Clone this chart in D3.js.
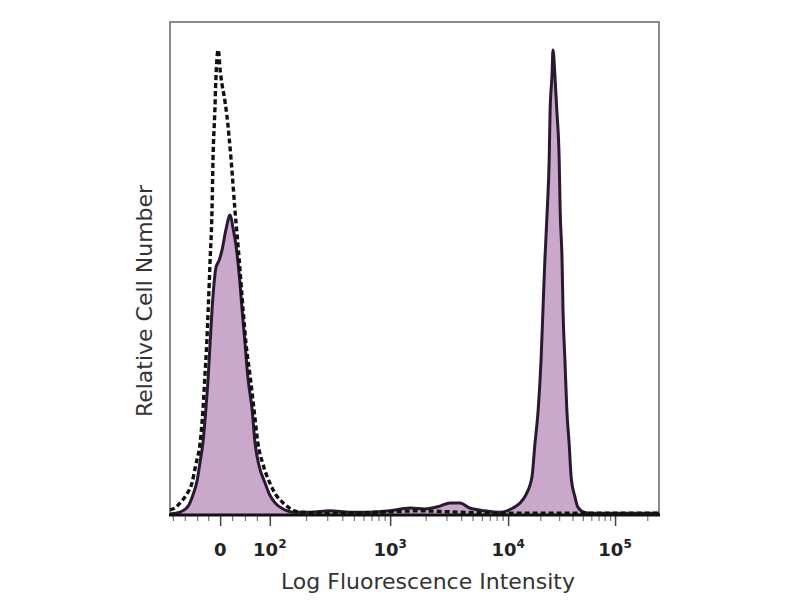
<!DOCTYPE html>
<html>
<head>
<meta charset="utf-8">
<script src="https://cdn.jsdelivr.net/npm/d3@7"></script>
<style>
  html, body { margin: 0; padding: 0; background: #ffffff; }
  svg { display: block; }
</style>
</head>
<body>
<svg id="chart" width="800" height="600"></svg>
<script>
// ---- Data (x in display channels 0-1024, y as relative cell number, % of max) ----
const sampleChannel = [0, 21, 38, 48, 57, 63, 69, 75, 80, 84, 88, 92, 96, 103, 109, 117, 126, 132, 138, 145,
  151, 157, 163, 172, 178, 186, 199, 209, 220, 237, 258, 293, 335, 377, 419, 461, 503, 534, 565, 586,
  607, 628, 660, 691, 706, 718, 733, 746, 758, 764, 771, 777, 781, 785, 790, 794, 796, 800, 802, 806,
  810, 815, 817, 821, 823, 827, 831, 836, 840, 848, 854, 867, 880, 921, 963, 1024];
const sampleCount = [0.2, 0.6, 1.9, 4.3, 7.5, 11.4, 15.5, 22.6, 29.7, 37.0, 44.1, 49.5, 53.1, 54.8, 57.0, 61.3, 64.5, 61.7, 58.1, 51.6,
  44.1, 37.0, 29.7, 22.6, 15.5, 10.8, 6.9, 4.3, 2.6, 1.3, 0.6, 0.6, 0.9, 0.6, 0.6, 0.9, 1.5, 1.3, 1.9, 2.6,
  2.6, 1.5, 0.9, 0.6, 0.9, 1.5, 2.6, 4.5, 8.2, 15.1, 22.6, 33.3, 44.1, 54.8, 65.6, 76.3, 87.1, 94.6, 100, 94.6,
  87.1, 76.3, 65.6, 54.8, 44.1, 33.3, 22.6, 15.1, 8.2, 3.9, 1.7, 0.6, 0.4, 0.4, 0.4, 0.4];

const isotypeChannel = [0, 10, 21, 34, 46, 54, 63, 69, 73, 77, 80, 84, 88, 90, 94, 96, 101, 105, 109, 113,
  119, 128, 136, 145, 153, 159, 168, 176, 184, 195, 209, 222, 237, 253, 272, 335, 440, 523, 607, 691,
  817, 942, 1024];
const isotypeCount = [1.1, 1.5, 2.6, 4.3, 6.9, 10.8, 15.5, 22.6, 29.7, 37.0, 44.1, 54.8, 65.6, 76.3, 87.1, 93.5, 100, 95.7, 92.5, 90.3,
  86.0, 76.3, 65.6, 54.8, 44.1, 37.0, 29.7, 22.6, 15.5, 10.8, 6.9, 4.3, 2.6, 1.3, 0.6, 0.4, 0.6, 0.9, 0.6, 0.4,
  0.4, 0.4, 0.4];

// Axis ticks (channel positions of the biexponential display) and labels
const majorTickChannels = [105, 209, 461, 708, 932];
const majorTickBase = ["0", "10", "10", "10", "10"];
const majorTickExp = ["", "2", "3", "4", "5"];
const linearMinorChannels = [6, 31, 57, 80, 130, 157, 182];
const minorMultipliers = [2, 3, 4, 5, 6, 7, 8, 9];

const xTitle = "Log Fluorescence Intensity";
const yTitle = "Relative Cell Number";

(function draw() {
  const pl = 170, pr = 659, pt = 22, pb = 515;
  const svg = d3.select("#chart");

  const x = d3.scaleLinear().domain([0, 1024]).range([pl, pr]);
  const y = d3.scaleLinear().domain([0, 106]).range([pb, pt]);

  // log-decade minor ticks between major decade ticks
  const minorChannels = linearMinorChannels.slice();
  for (let i = 1; i < majorTickChannels.length; i++) {
    const a = majorTickChannels[i];
    const b = (i + 1 < majorTickChannels.length) ? majorTickChannels[i + 1] : a + (a - majorTickChannels[i - 1]);
    minorMultipliers.forEach(m => {
      const c = a + Math.log10(m) * (b - a);
      if (c < 1024) minorChannels.push(c);
    });
  }

  // frame
  svg.append("rect")
    .attr("x", pl).attr("y", pt)
    .attr("width", pr - pl).attr("height", pb - pt)
    .attr("fill", "none").attr("stroke", "#8a8a8a").attr("stroke-width", 2);

  const sample = sampleChannel.map((c, i) => ({ c, v: sampleCount[i] }));
  const isotype = isotypeChannel.map((c, i) => ({ c, v: isotypeCount[i] }));

  const curve = d3.curveMonotoneX;
  const area = d3.area().x(d => x(d.c)).y0(y(0)).y1(d => y(d.v)).curve(curve);
  const line = d3.line().x(d => x(d.c)).y(d => y(d.v)).curve(curve);

  svg.append("path").datum(sample)
    .attr("d", area)
    .attr("fill", "#c9a8cb");

  svg.append("path").datum(sample)
    .attr("d", line)
    .attr("fill", "none").attr("stroke", "#2a1a30").attr("stroke-width", 3)
    .attr("stroke-linejoin", "round");

  svg.append("path").datum(isotype)
    .attr("d", line)
    .attr("fill", "none").attr("stroke", "#111111").attr("stroke-width", 3.4)
    .attr("stroke-dasharray", "5,3");

  // x axis ticks
  svg.append("g").attr("transform", `translate(0,${pb})`)
    .call(d3.axisBottom(x).tickValues(majorTickChannels).tickSize(11).tickFormat(""))
    .call(g => g.select(".domain").remove())
    .call(g => g.selectAll(".tick line").attr("stroke", "#444").attr("stroke-width", 1.5));
  svg.append("g").attr("transform", `translate(0,${pb})`)
    .call(d3.axisBottom(x).tickValues(minorChannels).tickSize(6).tickFormat(""))
    .call(g => g.select(".domain").remove())
    .call(g => g.selectAll(".tick line").attr("stroke", "#777").attr("stroke-width", 1.2));

  svg.append("line")
    .attr("x1", pl - 1).attr("x2", pr + 1)
    .attr("y1", pb).attr("y2", pb)
    .attr("stroke", "#111").attr("stroke-width", 3);

  // tick labels
  const labels = svg.append("g")
    .attr("font-family", "DejaVu Sans, Verdana, sans-serif")
    .attr("font-weight", "bold").attr("fill", "#222");
  majorTickChannels.forEach((c, i) => {
    const t = labels.append("text")
      .attr("x", x(c)).attr("y", 556)
      .attr("text-anchor", "middle")
      .attr("font-size", 18);
    t.append("tspan").text(majorTickBase[i]);
    if (majorTickExp[i]) {
      t.append("tspan").attr("dy", -8).attr("font-size", 12).text(majorTickExp[i]);
    }
  });

  // titles
  svg.append("text")
    .attr("x", 428).attr("y", 589)
    .attr("text-anchor", "middle")
    .attr("font-family", "DejaVu Sans, Verdana, sans-serif")
    .attr("font-size", 22).attr("fill", "#333")
    .text(xTitle);

  svg.append("text")
    .attr("transform", "translate(152,301) rotate(-90)")
    .attr("text-anchor", "middle")
    .attr("font-family", "DejaVu Sans, Verdana, sans-serif")
    .attr("font-size", 22).attr("fill", "#333")
    .text(yTitle);
})();
</script>
</body>
</html>
